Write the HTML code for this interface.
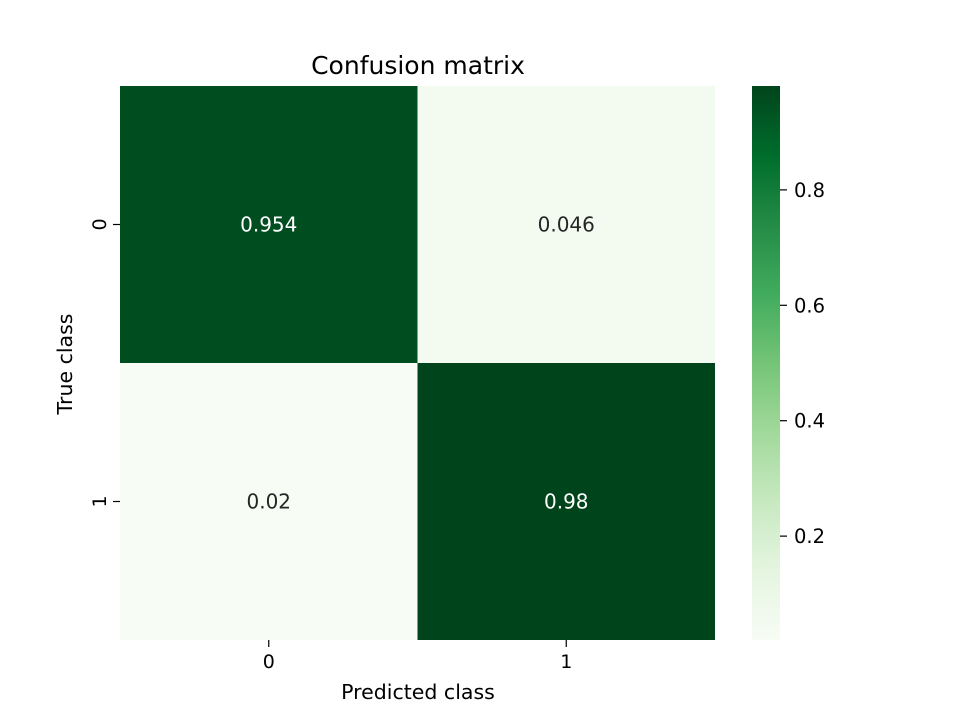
<!DOCTYPE html>
<html><head><meta charset="utf-8"><style>
body{margin:0;background:#fff;font-family:"Liberation Sans","DejaVu Sans",sans-serif}
</style></head><body>
<svg id="chart" width="960" height="720" xmlns="http://www.w3.org/2000/svg" font-family="DejaVu Sans, Liberation Sans, sans-serif">
<defs>
<linearGradient id="greens" x1="0" y1="1" x2="0" y2="0">
<stop offset="0" stop-color="#f7fcf5"/><stop offset="0.125" stop-color="#e5f5e0"/><stop offset="0.25" stop-color="#c7e9c0"/><stop offset="0.375" stop-color="#a1d99b"/><stop offset="0.5" stop-color="#74c476"/><stop offset="0.625" stop-color="#41ab5d"/><stop offset="0.75" stop-color="#238b45"/><stop offset="0.875" stop-color="#006d2c"/><stop offset="1" stop-color="#00441b"/>
</linearGradient>
</defs>
<text x="418" y="74" text-anchor="middle" font-size="25" fill="#000">Confusion matrix</text>
<g id="cells"></g>
<rect x="752" y="86" width="28" height="554" fill="url(#greens)"/>
<g id="cbticks"></g>
<g id="axes"></g>
<text x="418" y="699" text-anchor="middle" font-size="20.5">Predicted class</text>
<text transform="translate(72,364) rotate(-90)" text-anchor="middle" font-size="20.5">True class</text>
</svg>
<script>
const classes=["0","1"];
const row0=[0.954,0.046];
const row1=[0.02,0.98];
const cellLabels=[["0.954","0.046"],["0.02","0.98"]];
const cbTicks=[0.2,0.4,0.6,0.8];
const vmin=0.02,vmax=0.98;
const X0=120,X1=715,Y0=86,Y1=640;
const stops=["#f7fcf5","#e5f5e0","#c7e9c0","#a1d99b","#74c476","#41ab5d","#238b45","#006d2c","#00441b"];
function hex(c){return [1,3,5].map(i=>parseInt(c.substr(i,2),16));}
function color(v){let t=Math.max(0,Math.min(1,(v-vmin)/(vmax-vmin)))*(stops.length-1);let i=Math.min(Math.floor(t),stops.length-2),f=t-i;const a=hex(stops[i]),b=hex(stops[i+1]);return "rgb("+a.map((x,k)=>Math.round(x+(b[k]-x)*f)).join(",")+")";}
const ns="http://www.w3.org/2000/svg";
function mk(tag,attrs,parent){const e=document.createElementNS(ns,tag);for(const k in attrs)e.setAttribute(k,attrs[k]);parent.appendChild(e);return e;}
const rows=[row0,row1];
const cw=(X1-X0)/classes.length,ch=(Y1-Y0)/classes.length;
const cells=document.getElementById('cells');
rows.forEach((r,i)=>r.forEach((v,j)=>{
 const rc=mk('rect',{x:X0+j*cw,y:Y0+i*ch,width:cw,height:ch,fill:color(v)},cells);
 
 
 const t=mk('text',{x:X0+(j+0.5)*cw,y:Y0+(i+0.5)*ch+7,'text-anchor':'middle','font-size':20,fill:v>0.5?'#fff':'#262626'},cells);
 t.textContent=cellLabels[i][j];
 
 
}));
const ax=document.getElementById('axes');
classes.forEach((c,k)=>{
 const x=X0+(k+0.5)*cw,y=Y0+(k+0.5)*ch;
 mk('line',{x1:x,x2:x,y1:Y1,y2:Y1+7,stroke:'#000','stroke-width':1.2},ax);
 const tx=mk('text',{x:x,y:Y1+28,'text-anchor':'middle','font-size':19},ax);tx.textContent=c;
 
 
 mk('line',{x1:X0-7,x2:X0,y1:y,y2:y,stroke:'#000','stroke-width':1.2},ax);
 const ty=mk('text',{transform:'translate('+(X0-14)+','+y+') rotate(-90)','text-anchor':'middle','font-size':19},ax);ty.textContent=c;
 
 
});
const cb=document.getElementById('cbticks');
cbTicks.forEach(v=>{
 const y=Y1-(v-vmin)/(vmax-vmin)*(Y1-Y0);
 mk('line',{x1:780,x2:787,y1:y,y2:y,stroke:'#000','stroke-width':1.2},cb);
 const t=mk('text',{x:794,y:y+7,'font-size':19.5},cb);t.textContent=v.toFixed(1);
 
 
});
</script>
</body></html>
